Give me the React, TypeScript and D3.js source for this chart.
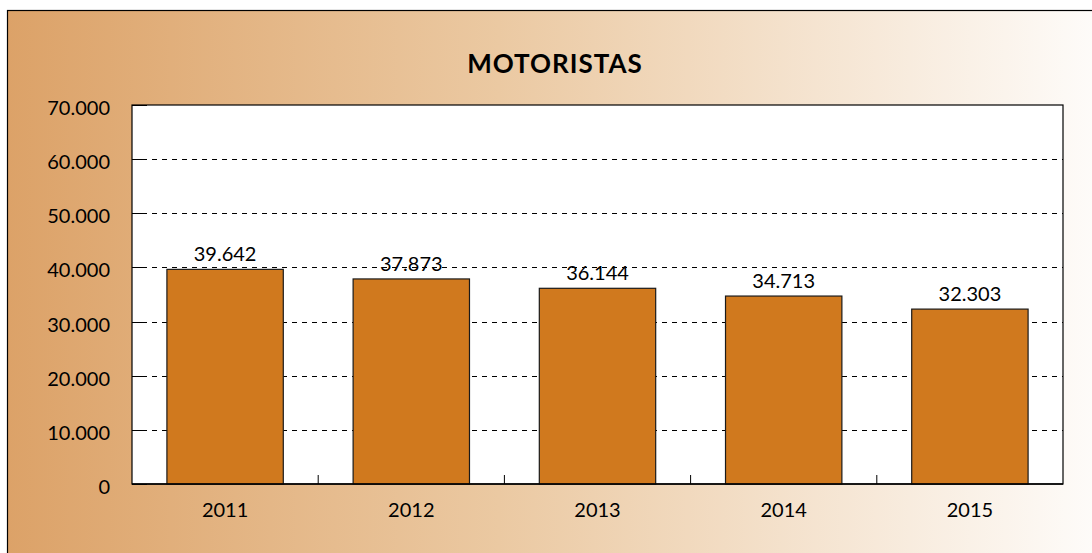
import { useEffect, useRef } from "react";
import * as d3 from "d3";

const years = ["2011", "2012", "2013", "2014", "2015"];
const motoristas = [39642, 37873, 36144, 34713, 32303];
const yTicks = [0, 10000, 20000, 30000, 40000, 50000, 60000, 70000];

const W = 1092;
const H = 553;

const fmt = (v: number) => (v === 0 ? "0" : d3.format(",")(v).replace(/,/g, "."));

export default function App() {
  const svgRef = useRef<SVGSVGElement>(null);

  useEffect(() => {
    const svg = d3.select(svgRef.current);
    svg.selectAll("*").remove();

    const m = { left: 132, right: 1063, top: 105, bottom: 484 };
    const font = "Lato, 'DejaVu Sans', sans-serif";

    const defs = svg.append("defs");
    const grad = defs.append("linearGradient").attr("id", "bg").attr("x1", 0).attr("x2", 1).attr("y1", 0).attr("y2", 0);
    grad.append("stop").attr("offset", "0%").attr("stop-color", "#dca268");
    grad.append("stop").attr("offset", "45%").attr("stop-color", "#ebc9a2");
    grad.append("stop").attr("offset", "100%").attr("stop-color", "#fefcfa");

    svg.append("rect").attr("width", W).attr("height", H).attr("fill", "#fff");
    svg.append("rect")
      .attr("x", 7.5).attr("y", 10.5)
      .attr("width", W).attr("height", H)
      .attr("fill", "url(#bg)")
      .attr("stroke", "#000").attr("stroke-width", 1.2);

    const x = d3.scaleBand().domain(years).range([m.left, m.right]).paddingInner(0.375).paddingOuter(0.1875);
    const y = d3.scaleLinear().domain([0, 70000]).range([m.bottom, m.top]);

    // plot area
    svg.append("rect")
      .attr("x", m.left).attr("y", m.top)
      .attr("width", m.right - m.left).attr("height", m.bottom - m.top)
      .attr("fill", "#fff").attr("stroke", "#000").attr("stroke-width", 1.2);

    // gridlines
    svg.append("g").selectAll("line")
      .data(yTicks.filter(t => t > 0 && t < 70000))
      .enter().append("line")
      .attr("x1", m.left).attr("x2", m.right)
      .attr("y1", d => Math.round(y(d)) + 0.5).attr("y2", d => Math.round(y(d)) + 0.5)
      .attr("stroke", "#000").attr("stroke-width", 1)
      .attr("stroke-dasharray", "5,5");

    // y tick marks
    svg.append("g").selectAll("line")
      .data(yTicks)
      .enter().append("line")
      .attr("x1", m.left).attr("x2", m.left + 15)
      .attr("y1", d => Math.round(y(d)) + 0.5).attr("y2", d => Math.round(y(d)) + 0.5)
      .attr("stroke", "#000");

    // x tick marks between categories
    const step = x.step();
    svg.append("g").selectAll("line")
      .data(d3.range(1, years.length))
      .enter().append("line")
      .attr("x1", i => m.left + i * step).attr("x2", i => m.left + i * step)
      .attr("y1", m.bottom).attr("y2", m.bottom - 9)
      .attr("stroke", "#000");

    // bars
    svg.append("g").selectAll("rect")
      .data(motoristas)
      .enter().append("rect")
      .attr("x", (d, i) => x(years[i])!)
      .attr("y", d => y(d))
      .attr("width", x.bandwidth())
      .attr("height", d => m.bottom - y(d))
      .attr("fill", "#d0791e")
      .attr("stroke", "#1a1a1a").attr("stroke-width", 1.2);

    // value labels
    svg.append("g").selectAll("text")
      .data(motoristas)
      .enter().append("text")
      .attr("x", (d, i) => x(years[i])! + x.bandwidth() / 2)
      .attr("y", d => y(d) - 8)
      .attr("text-anchor", "middle")
      .attr("font-family", font).attr("font-size", 20)
      .attr("fill", "#000")
      .text(d => fmt(d));

    // y labels
    svg.append("g").selectAll("text")
      .data(yTicks)
      .enter().append("text")
      .attr("x", 110).attr("y", d => y(d) + 10)
      .attr("text-anchor", "end")
      .attr("font-family", font).attr("font-size", 20)
      .text(d => fmt(d));

    // x labels
    svg.append("g").selectAll("text")
      .data(years)
      .enter().append("text")
      .attr("x", d => x(d)! + x.bandwidth() / 2)
      .attr("y", 517)
      .attr("text-anchor", "middle")
      .attr("font-family", font).attr("font-size", 20)
      .text(d => d);

    // axis bottom line
    svg.append("line")
      .attr("x1", m.left).attr("x2", m.right)
      .attr("y1", m.bottom).attr("y2", m.bottom)
      .attr("stroke", "#000").attr("stroke-width", 1.5);

    svg.append("text")
      .attr("x", 555).attr("y", 73)
      .attr("text-anchor", "middle")
      .attr("font-family", font).attr("font-size", 26).attr("font-weight", "bold")
      .attr("letter-spacing", 1)
      .text("MOTORISTAS");
  }, []);

  return (
    <div style={{ position: "absolute", left: 0, top: 0 }}>
      <svg ref={svgRef} width={W} height={H} style={{ display: "block" }} />
    </div>
  );
}
